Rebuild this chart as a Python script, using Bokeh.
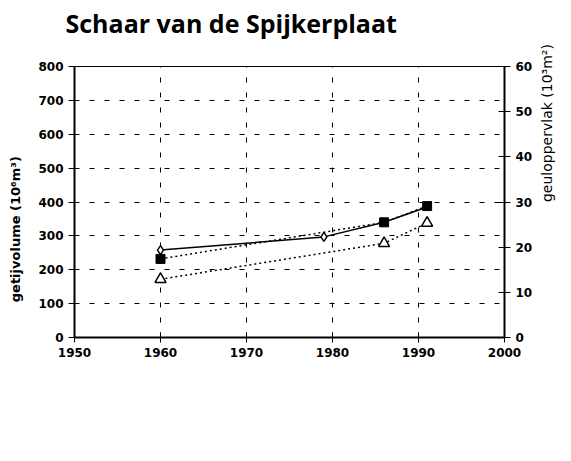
import math
from bokeh.plotting import figure
from bokeh.models import Range1d, LinearAxis, FixedTicker, Title
from bokeh.embed import file_html
from bokeh.resources import INLINE

# Data
years_solid = [1960, 1979, 1986, 1991]
vol_solid = [258, 297, 340, 385]

years_sq = [1960, 1986, 1991]
vol_sq = [232, 340, 388]

years_tri = [1960, 1986, 1991]
vol_tri = [172, 278, 338]

x_ticks = [1950, 1960, 1970, 1980, 1990, 2000]
y_ticks = [0, 100, 200, 300, 400, 500, 600, 700, 800]
r_ticks = [0, 10, 20, 30, 40, 50, 60]

TITLE = "Schaar van de Spijkerplaat"
PAD = "\u00a0" * 12
LEFT_LABEL = "getijvolume (10⁶m³)" + PAD
RIGHT_LABEL = "geuloppervlak (10³m²)"

p = figure(width=566, height=380, output_backend="svg", toolbar_location=None,
           x_range=Range1d(1950, 2000), y_range=Range1d(0, 800),
           min_border_left=74, min_border_right=58, min_border_top=66, min_border_bottom=43)

# spacer title (nearest the frame) then the real title above it
p.add_layout(Title(text=" ", text_font_size="19px", standoff=4), "above")
p.add_layout(Title(text=TITLE, text_font="Open Sans", text_font_style="bold",
                   text_font_size="25px", text_color="black", align="left",
                   offset=-9, standoff=0), "above")

p.extra_y_ranges = {"r": Range1d(0, 60)}

TICKFONT = "DejaVu Sans"
for ax in [p.xaxis[0], p.yaxis[0]]:
    ax.major_label_text_font = TICKFONT
    ax.major_label_text_font_style = "bold"
    ax.major_label_text_font_size = "12px"
    ax.major_label_text_color = "black"
    ax.axis_line_color = "black"
    ax.major_tick_line_color = "black"
    ax.minor_tick_line_color = None

p.xaxis[0].ticker = FixedTicker(ticks=x_ticks)
p.xaxis[0].major_tick_in = 5
p.xaxis[0].major_tick_out = 5
p.xaxis[0].axis_line_width = 2

p.yaxis[0].ticker = FixedTicker(ticks=y_ticks)
p.yaxis[0].major_tick_in = 0
p.yaxis[0].major_tick_out = 6
p.yaxis[0].axis_line_width = 2
p.yaxis[0].axis_label = LEFT_LABEL
p.yaxis[0].axis_label_text_font = TICKFONT
p.yaxis[0].axis_label_text_font_style = "bold"
p.yaxis[0].axis_label_text_font_size = "13px"
p.yaxis[0].axis_label_text_color = "black"
p.yaxis[0].axis_label_standoff = 12

rax = LinearAxis(y_range_name="r", ticker=FixedTicker(ticks=r_ticks),
                 axis_label=RIGHT_LABEL)
rax.major_label_text_font = TICKFONT
rax.major_label_text_font_style = "bold"
rax.major_label_text_font_size = "12px"
rax.major_label_text_color = "black"
rax.axis_line_width = 2
rax.major_tick_in = 6
rax.major_tick_out = 6
rax.minor_tick_line_color = None
rax.axis_label_text_font = TICKFONT
rax.axis_label_text_font_style = "normal"
rax.axis_label_text_font_size = "14px"
rax.axis_label_text_color = "black"
rax.axis_label_standoff = 12
rax.axis_label_orientation = math.pi / 2
p.add_layout(rax, "right")

p.xgrid.ticker = FixedTicker(ticks=x_ticks)
p.ygrid.ticker = FixedTicker(ticks=y_ticks)
for g in [p.xgrid[0], p.ygrid[0]]:
    g.grid_line_color = "black"
    g.grid_line_dash = "5 10"
    g.grid_line_width = 1

p.outline_line_color = "black"
p.outline_line_width = 1
p.background_fill_color = "white"
p.border_fill_color = "white"

# Series
p.line(years_solid, vol_solid, line_color="black", line_width=1.5)
p.scatter(years_solid[:2], vol_solid[:2], marker="diamond", size=9,
          fill_color="white", line_color="black", line_width=1.5)

p.line(years_sq, vol_sq, line_color="black", line_width=1.5, line_dash="2 3")
p.scatter(years_sq, vol_sq, marker="square", size=9,
          fill_color="black", line_color="black")

p.line(years_tri, vol_tri, line_color="black", line_width=1.5, line_dash="2 3")
p.scatter(years_tri, vol_tri, marker="triangle", size=11,
          fill_color="white", line_color="black", line_width=1.5)

open("out.html", "w").write(file_html(p, INLINE))
